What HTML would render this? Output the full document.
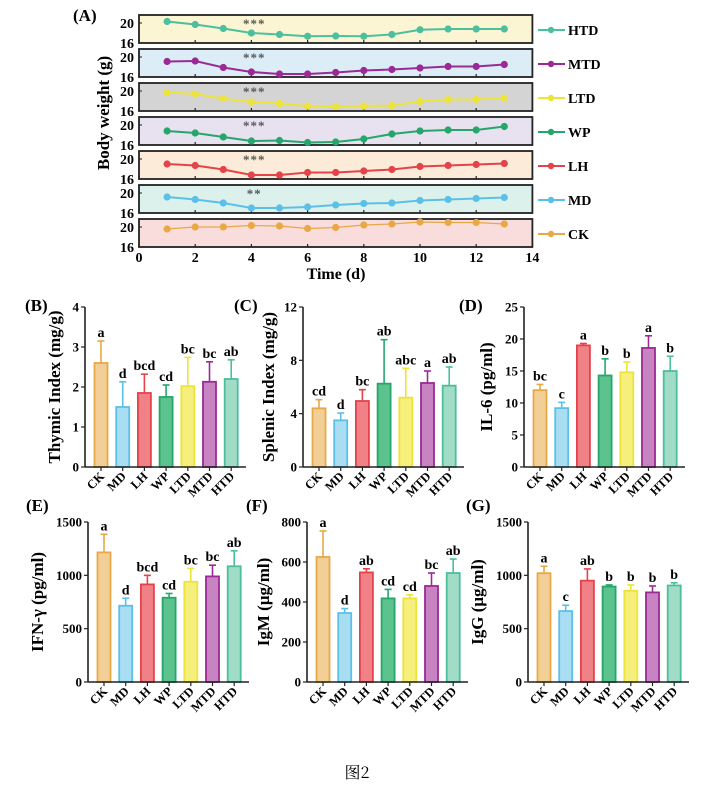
<!DOCTYPE html>
<html><head><meta charset="utf-8">
<style>
html,body{margin:0;padding:0;background:#fff;}
svg{display:block;font-family:"Liberation Serif","Noto Serif CJK SC",serif;}
</style></head>
<body>
<svg id="fig" width="714" height="796" viewBox="0 0 714 796" xmlns="http://www.w3.org/2000/svg">
<text x="73" y="21" font-size="17" font-weight="bold">(A)</text>
<text transform="translate(109,113) rotate(-90)" text-anchor="middle" font-size="17" font-weight="bold">Body weight (g)</text>
<text x="336" y="279" text-anchor="middle" font-size="16" font-weight="bold">Time (d)</text>
<text x="357" y="778" text-anchor="middle" font-size="16" font-family="'Noto Serif CJK SC',serif">图2</text>
<g id="gA"></g>
<g id="gBars"></g>
</svg>
<script>
const NS='http://www.w3.org/2000/svg';
// ---- Panel A data ----
const days=[1,2,3,4,5,6,7,8,9,10,11,12,13];
const seriesNames=['HTD','MTD','LTD','WP','LH','MD','CK'];
const wHTD=[20.3,19.7,18.9,18.0,17.7,17.35,17.4,17.35,17.7,18.65,18.8,18.8,18.8];
const wMTD=[19.1,19.2,17.9,17.0,16.6,16.6,16.9,17.3,17.5,17.8,18.1,18.1,18.5];
const wLTD=[19.7,19.4,18.5,17.8,17.5,17.0,16.9,17.0,17.1,17.9,18.3,18.3,18.6];
const wWP=[18.8,18.4,17.6,16.8,16.9,16.5,16.6,17.2,18.2,18.8,19.0,19.0,19.7];
const wLH=[19.0,18.7,17.9,16.8,16.8,17.3,17.3,17.6,17.9,18.5,18.7,18.9,19.1];
const wMD=[19.2,18.7,18.0,17.0,17.0,17.2,17.6,17.9,18.0,18.5,18.7,18.9,19.1];
const wCK=[19.6,20.0,20.0,20.3,20.2,19.7,19.9,20.4,20.6,21.0,20.9,20.9,20.6];
const sigMarks=['***','***','***','***','***','**',''];
const xTicksA=[0,2,4,6,8,10,12,14];
// ---- Bar data ----
const groups=['CK','MD','LH','WP','LTD','MTD','HTD'];
const thymic=[2.6,1.5,1.85,1.75,2.02,2.13,2.2];
const thymicErr=[0.55,0.63,0.47,0.3,0.72,0.5,0.48];
const thymicSig=['a','d','bcd','cd','bc','bc','ab'];
const splenic=[4.4,3.5,4.95,6.25,5.2,6.3,6.1];
const splenicErr=[0.65,0.55,0.85,3.3,2.2,0.9,1.4];
const splenicSig=['cd','d','bc','ab','abc','a','ab'];
const il6=[12,9.2,19,14.3,14.8,18.6,15];
const il6Err=[0.9,0.9,0.3,2.6,1.6,1.9,2.3];
const il6Sig=['bc','c','a','b','b','a','b'];
const ifn=[1215,715,915,790,940,990,1085];
const ifnErr=[170,70,85,40,125,105,145];
const ifnSig=['a','d','bcd','cd','bc','bc','ab'];
const igm=[625,345,548,418,418,480,545];
const igmErr=[130,22,18,45,18,65,70];
const igmSig=['a','d','ab','cd','cd','bc','ab'];
const igg=[1020,665,950,895,855,840,905];
const iggErr=[65,55,110,15,55,60,25];
const iggSig=['a','c','ab','b','b','b','b'];
const ticksB=[0,1,2,3,4],ticksC=[0,4,8,12],ticksD=[0,5,10,15,20,25];
const ticksE=[0,500,1000,1500],ticksF=[0,200,400,600,800],ticksG=[0,500,1000,1500];

const lineCol={HTD:'#4cbf9e',MTD:'#9b2a94',LTD:'#ece43a',WP:'#26a66b',LH:'#e4434a',MD:'#5bc0e8',CK:'#e8a845'};
const bgCol={HTD:'#fbf5d3',MTD:'#dcedf7',LTD:'#d4d4d4',WP:'#e7e1f0',LH:'#fcebd8',MD:'#dcf1ec',CK:'#f9dcdc'};
const fillCol={CK:'#f3cf98',MD:'#a9def2',LH:'#f08187',WP:'#5cc38e',LTD:'#f6ef7c',MTD:'#c883c3',HTD:'#a1dcc6'};

function mk(tag,attrs,parent,txt){const e=document.createElementNS(NS,tag);for(const k in attrs)e.setAttribute(k,attrs[k]);if(txt!==undefined)e.textContent=txt;parent.appendChild(e);return e;}

// ---- Panel A ----
const gA=document.getElementById('gA');
const allW=[wHTD,wMTD,wLTD,wWP,wLH,wMD,wCK];
const ax0=139,axPer=28.1,stripH=28,pitch=34,top0=15;
function xA(d){return ax0+d*axPer;}
seriesNames.forEach((nm,i)=>{
  const top=top0+i*pitch,bot=top+stripH;
  const yA=v=>bot-(v-16)*5;
  const g=mk('g',{},gA);
  
  
  const r=mk('rect',{x:ax0,y:top,width:xA(14)-ax0,height:stripH,fill:bgCol[nm],stroke:'#222','stroke-width':1.8},g);
  
  
  [16,20].forEach(t=>{
    const tl=mk('text',{x:134,y:yA(t)+5,'text-anchor':'end','font-size':14,'font-weight':'bold'},g,String(t));
    
    
    mk('line',{x1:ax0,x2:ax0+3,y1:yA(t),y2:yA(t),stroke:'#222','stroke-width':1},g);
  });
  xTicksA.forEach(t=>{mk('line',{x1:xA(t),x2:xA(t),y1:bot,y2:bot-3,stroke:'#222','stroke-width':1.2},g);});
  const vals=allW[i];
  const pts=days.map((d,k)=>xA(d)+','+yA(vals[k])).join(' ');
  const pl=mk('polyline',{points:pts,fill:'none',stroke:lineCol[nm],'stroke-width':nm==='CK'?1.2:2},g);
  
  
  days.forEach((d,k)=>{
    const c=mk('circle',{cx:xA(d),cy:yA(vals[k]),r:3.6,fill:lineCol[nm]},g);
    
    
  });
  if(sigMarks[i]){
    const s=mk('text',{x:xA(4.1),y:top+13,'text-anchor':'middle','font-size':13,'font-weight':'bold',fill:'#555','letter-spacing':'1'},g,sigMarks[i]);
    
    
  }
  const ly=top+15;
  const lg=mk('g',{},g);
  
  
  mk('line',{x1:538,x2:565,y1:ly,y2:ly,stroke:lineCol[nm],'stroke-width':2},lg);
  mk('circle',{cx:551,cy:ly,r:3.2,fill:lineCol[nm]},lg);
  mk('text',{x:568,y:ly+5,'font-size':14,'font-weight':'bold'},lg,nm);
});
xTicksA.forEach(t=>{
  const tl=mk('text',{x:xA(t),y:262,'text-anchor':'middle','font-size':14,'font-weight':'bold'},gA,String(t));
  
  
});

// ---- Bar panels ----
const gB=document.getElementById('gBars');
function barPanel(o){
  const g=mk('g',{},gB);
  
  
  const ymax=o.ticks[o.ticks.length-1];
  const yS=v=>o.y0-(v/ymax)*160;
  const xS=i=>o.ax+16+i*21.7;
  const pl=mk('text',{x:o.lx,y:o.ly,'font-size':17,'font-weight':'bold'},g,o.label);
  
  
  const tt=mk('text',{transform:`translate(${o.tx},${o.y0-80}) rotate(-90)`,'text-anchor':'middle','font-size':17,'font-weight':'bold'},g,o.title);
  
  
  o.vals.forEach((v,i)=>{
    const nm=groups[i];
    const x=xS(i),yt=yS(v),ye=yS(v+o.err[i]);
    mk('line',{x1:x,x2:x,y1:yt,y2:ye,stroke:lineCol[nm],'stroke-width':1.6},g);
    mk('line',{x1:x-3.5,x2:x+3.5,y1:ye,y2:ye,stroke:lineCol[nm],'stroke-width':1.6},g);
    const b=mk('rect',{x:x-6.5,y:yt,width:13,height:o.y0-yt,fill:fillCol[nm],stroke:lineCol[nm],'stroke-width':1.8},g);
    
    
    const s=mk('text',{x:x,y:ye-4,'text-anchor':'middle','font-size':14,'font-weight':'bold'},g,o.sig[i]);
    
    
    mk('line',{x1:x,x2:x,y1:o.y0,y2:o.y0+4,stroke:'#222','stroke-width':1.2},g);
    const cl=mk('text',{transform:`translate(${x+4},${o.y0+10}) rotate(-45)`,'text-anchor':'end','font-size':12.5,'font-weight':'bold'},g,nm);
    
    
  });
  o.ticks.forEach(t=>{
    mk('line',{x1:o.ax-4,x2:o.ax,y1:yS(t),y2:yS(t),stroke:'#222','stroke-width':1.2},g);
    const tl=mk('text',{x:o.ax-6,y:yS(t)+4.5,'text-anchor':'end','font-size':13,'font-weight':'bold'},g,String(t));
    
    
  });
  const ya=mk('line',{x1:o.ax,x2:o.ax,y1:o.y0,y2:yS(ymax),stroke:'#222','stroke-width':1.6},g);
  
  
  const xa=mk('line',{x1:o.ax,x2:o.ax+161,y1:o.y0,y2:o.y0,stroke:'#222','stroke-width':1.6},g);
  
  
}
barPanel({name:'panel-b',label:'(B)',lx:25,ly:311,ax:85,y0:467,tx:60,title:'Thymic Index (mg/g)',vals:thymic,err:thymicErr,sig:thymicSig,ticks:ticksB});
barPanel({name:'panel-c',label:'(C)',lx:234,ly:311,ax:303,y0:467,tx:274,title:'Splenic Index (mg/g)',vals:splenic,err:splenicErr,sig:splenicSig,ticks:ticksC});
barPanel({name:'panel-d',label:'(D)',lx:459,ly:311,ax:524,y0:467,tx:492,title:'IL-6 (pg/ml)',vals:il6,err:il6Err,sig:il6Sig,ticks:ticksD});
barPanel({name:'panel-e',label:'(E)',lx:26,ly:511,ax:88,y0:682,tx:43,title:'IFN-γ (pg/ml)',vals:ifn,err:ifnErr,sig:ifnSig,ticks:ticksE});
barPanel({name:'panel-f',label:'(F)',lx:246,ly:511,ax:307,y0:682,tx:269,title:'IgM (μg/ml)',vals:igm,err:igmErr,sig:igmSig,ticks:ticksF});
barPanel({name:'panel-g',label:'(G)',lx:466,ly:511,ax:528,y0:682,tx:483,title:'IgG (μg/ml)',vals:igg,err:iggErr,sig:iggSig,ticks:ticksG});
</script>
</body></html>
